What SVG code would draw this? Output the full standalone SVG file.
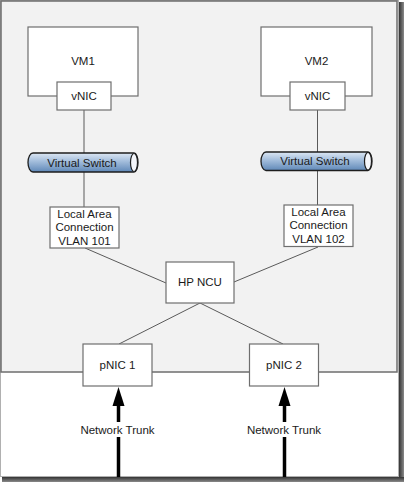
<svg xmlns="http://www.w3.org/2000/svg" width="404" height="482" viewBox="0 0 404 482">
  <style>
    .box { fill: #ffffff; stroke: #6e6e6e; stroke-width: 1.2; }
    .lbl { font-family: "Liberation Sans", Arial, sans-serif; font-size: 11.5px; fill: #1a1a1a; text-anchor: middle; }
    .conn { stroke: #5a5a5a; stroke-width: 1; fill: none; }
    .sw { fill: url(#swGrad); stroke: #1e1e1e; stroke-width: 1.3; }
    .swEnd { fill: #f4f6fb; stroke: #1e1e1e; stroke-width: 1.2; }
    .trunk { stroke: #000000; stroke-width: 3.5; fill: none; }
  </style>
  <defs>
    <linearGradient id="swGrad" x1="0" y1="0" x2="0" y2="1">
      <stop offset="0" stop-color="#dde7f3"/>
      <stop offset="0.4" stop-color="#a8c1de"/>
      <stop offset="1" stop-color="#5f88b8"/>
    </linearGradient>
    <linearGradient id="shadowR" x1="0" y1="0" x2="1" y2="0">
      <stop offset="0" stop-color="#333333"/>
      <stop offset="1" stop-color="#8a8a8a"/>
    </linearGradient>
    <linearGradient id="shadowB" x1="0" y1="0" x2="0" y2="1">
      <stop offset="0" stop-color="#333333"/>
      <stop offset="1" stop-color="#8a8a8a"/>
    </linearGradient>
  </defs>

  <!-- frame -->
  <rect x="0" y="0" width="404" height="482" fill="#ffffff"/>
  <rect x="399" y="2" width="5" height="480" fill="url(#shadowR)"/>
  <rect x="2" y="477" width="402" height="5" fill="url(#shadowB)"/>
  <rect x="0.5" y="0.5" width="398" height="476" fill="none" stroke="#b0b0b0" stroke-width="1"/>

  <!-- host panel -->
  <rect id="panel" x="1" y="1" width="396" height="371" fill="#f2f2f2" stroke="#6e6e6e" stroke-width="1.5"/>

  <!-- connectors -->
  <g id="connectors">
    <line class="conn" x1="84" y1="110" x2="84" y2="153"/>
    <line class="conn" x1="84" y1="172" x2="84" y2="207"/>
    <line class="conn" x1="85" y1="248" x2="166" y2="283"/>
    <line class="conn" x1="317.5" y1="110" x2="317.5" y2="152"/>
    <line class="conn" x1="317.5" y1="170.5" x2="317.5" y2="205"/>
    <line class="conn" x1="318" y1="247" x2="234" y2="282"/>
    <line class="conn" x1="200" y1="303" x2="119" y2="344"/>
    <line class="conn" x1="200" y1="303" x2="283" y2="344"/>
    <g id="trunk1">
      <line class="trunk" x1="118.5" y1="477" x2="118.5" y2="404"/>
      <polygon points="118.5,387 124.5,406 112.5,406" fill="#000000"/>
      <rect x="78" y="422" width="80" height="15" fill="#ffffff"/>
      <text class="lbl" x="117.5" y="433.5">Network Trunk</text>
    </g>
    <g id="trunk2">
      <line class="trunk" x1="284.5" y1="477" x2="284.5" y2="404"/>
      <polygon points="284.5,387 290.5,406 278.5,406" fill="#000000"/>
      <rect x="244" y="422" width="80" height="15" fill="#ffffff"/>
      <text class="lbl" x="284" y="433.5">Network Trunk</text>
    </g>
  </g>

  <!-- VM1 -->
  <g id="vm1">
    <rect class="box" x="28" y="27" width="110" height="69"/>
    <text class="lbl" x="83" y="65.3">VM1</text>
  </g>
  <g id="vnic1">
    <rect class="box" x="57" y="82" width="54" height="28"/>
    <text class="lbl" x="84" y="99.5">vNIC</text>
  </g>
  <g id="vswitch1">
    <path class="sw" d="M33,153 H134 A4,9.5 0 0 1 134,172 H33 A5,9.5 0 0 1 33,153 Z"/>
    <ellipse class="swEnd" cx="134" cy="162.5" rx="3.5" ry="9"/>
    <text class="lbl" x="82" y="166.5">Virtual Switch</text>
  </g>
  <g id="lac1">
    <rect class="box" x="50" y="207" width="69" height="41"/>
    <text class="lbl" x="84.5" y="217.5">Local Area</text>
    <text class="lbl" x="84.5" y="231">Connection</text>
    <text class="lbl" x="84.5" y="244.5">VLAN 101</text>
  </g>

  <!-- VM2 -->
  <g id="vm2">
    <rect class="box" x="261" y="27" width="111" height="69"/>
    <text class="lbl" x="316.5" y="65.3">VM2</text>
  </g>
  <g id="vnic2">
    <rect class="box" x="290" y="82" width="55" height="28"/>
    <text class="lbl" x="317.5" y="99.5">vNIC</text>
  </g>
  <g id="vswitch2">
    <path class="sw" d="M266,152 H368 A4,9.25 0 0 1 368,170.5 H266 A5,9.25 0 0 1 266,152 Z"/>
    <ellipse class="swEnd" cx="368" cy="161.25" rx="3.5" ry="8.8"/>
    <text class="lbl" x="315" y="164.5">Virtual Switch</text>
  </g>
  <g id="lac2">
    <rect class="box" x="284" y="205" width="69" height="41.5"/>
    <text class="lbl" x="318.5" y="215.5">Local Area</text>
    <text class="lbl" x="318.5" y="229">Connection</text>
    <text class="lbl" x="318.5" y="242.5">VLAN 102</text>
  </g>

  <!-- HP NCU -->
  <g id="hpncu">
    <rect class="box" x="166" y="262" width="68" height="41"/>
    <text class="lbl" x="200" y="286">HP NCU</text>
  </g>

  <!-- pNICs -->
  <g id="pnic1">
    <rect class="box" x="83" y="344" width="69" height="42"/>
    <text class="lbl" x="117.5" y="368.5">pNIC 1</text>
  </g>
  <g id="pnic2">
    <rect class="box" x="249.5" y="344" width="69" height="42"/>
    <text class="lbl" x="284" y="368.5">pNIC 2</text>
  </g>
</svg>
